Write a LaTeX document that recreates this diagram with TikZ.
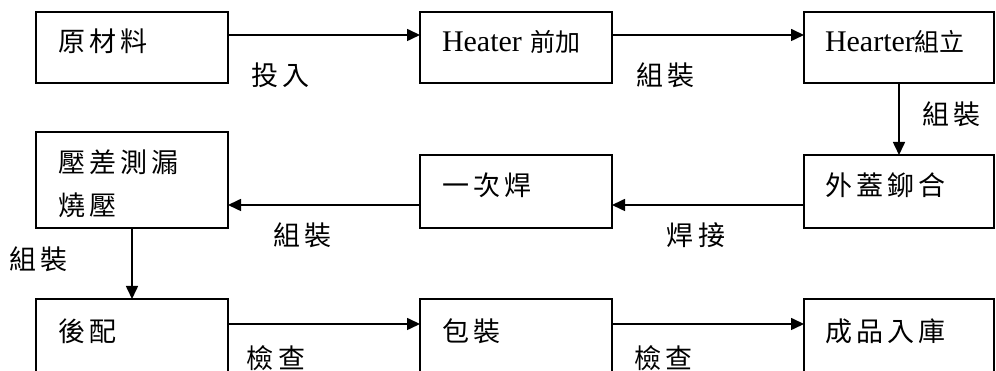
\documentclass[tikz,border=0pt]{standalone}
\usepackage{fontspec}
\newfontfamily\cjk{Noto Sans CJK TC}[LetterSpace=15]
\newfontfamily\cjkn{Noto Sans CJK TC}
\newfontfamily\latinf{Liberation Serif}
\newcommand{\eng}[1]{{\latinf\fontsize{30pt}{30pt}\selectfont #1}}
\usetikzlibrary{arrows.meta, positioning}

\begin{document}
\begin{tikzpicture}[
        x=1pt, y=1pt,
        box/.style={rectangle, draw=black, line width=1.6pt, outer sep=0pt, minimum width=192pt, minimum height=73pt, inner xsep=20pt, text width=148pt, align=left, text height=22pt, text depth=13pt, font=\cjk\fontsize{27pt}{43pt}\selectfont},
        smallbox/.style={box, font=\cjkn\fontsize{25pt}{30pt}\selectfont},
        lbl/.style={inner sep=0pt, font=\cjk\fontsize{27pt}{30pt}\selectfont},
        arr/.style={-{Triangle[length=13pt, width=12pt]}, line width=1.6pt}
    ]
        \useasboundingbox (0,0) rectangle (996,371);
        \node[box, minimum height=71pt, anchor=north west] (yuan) at (36,359) {原材料};
        \node[smallbox, minimum height=71pt, right=192pt of yuan] (heater) {\eng{Heater} 前加};
        \node[smallbox, minimum height=71pt, minimum width=190pt, right=192pt of heater] (hearter) {\eng{Hearter}組立};

        \node[box, minimum width=190pt, below=72pt of hearter.south west, anchor=north west] (waigai) {外蓋鉚合};
        \node[box, left=192pt of waigai] (yici) {一次焊};
        \node[box, minimum height=96pt, text depth=37pt, left=192pt of yici.south west, anchor=south east] (yacha) {壓差測漏\\燒壓};

        \node[box, minimum height=76pt, below=71pt of yacha] (houpei) {後配};
        \node[box, minimum height=76pt, right=192pt of houpei] (baozhuang) {包裝};
        \node[box, minimum height=76pt, minimum width=190pt, right=192pt of baozhuang] (chengpin) {成品入庫};

        \draw[arr] ([yshift=-23pt]yuan.north east) -- node[lbl, pos=0.275, below=27pt] {投入} ([yshift=-23pt]heater.north west);
        \draw[arr] ([yshift=-23pt]heater.north east) -- node[lbl, pos=0.28, below=27pt] {組裝} ([yshift=-23pt]hearter.north west);
        \draw[arr] (hearter) -- node[lbl, pos=0.43, right=23pt] {組裝} (waigai);
        \draw[arr] ([yshift=23pt]waigai.south west) -- node[lbl, pos=0.5625, below=17pt] {焊接} ([yshift=23pt]yici.south east);
        \draw[arr] ([yshift=23pt]yici.south west) -- node[lbl, pos=0.61, below=17pt] {組裝} ([yshift=23pt]yacha.south east);
        \draw[arr] (yacha) -- node[lbl, pos=0.44, left=64pt] {組裝} (houpei);
        \draw[arr] ([yshift=-25pt]houpei.north east) -- node[lbl, pos=0.25, below=21pt] {檢查} ([yshift=-25pt]baozhuang.north west);
        \draw[arr] ([yshift=-25pt]baozhuang.north east) -- node[lbl, pos=0.27, below=21pt] {檢查} ([yshift=-25pt]chengpin.north west);
    \end{tikzpicture}
\end{document}
